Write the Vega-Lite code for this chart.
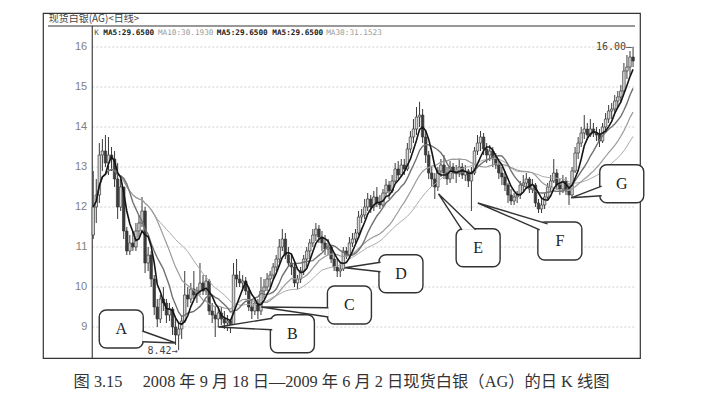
{
  "$schema": "https://vega.github.io/schema/vega-lite/v6.json",
  "width": 597,
  "height": 345,
  "autosize": {"type": "none"},
  "padding": {"left": 43, "top": 13, "right": 88, "bottom": 43},
  "background": "white",
  "title": {
    "text": "图 3.15\u3000 2008 年 9 月 18 日—2009 年 6 月 2 日现货白银（AG）的日 K 线图",
    "orient": "bottom",
    "anchor": "middle",
    "offset": 15,
    "font": "Liberation Serif, Noto Sans CJK SC",
    "fontSize": 16.3,
    "fontWeight": "normal",
    "color": "#333"
  },
  "config": {"view": {"stroke": "#333", "strokeWidth": 1.2}},
  "datasets": {
    "k": [
      {"i":0,"o":11.3,"h":12.9,"l":11.2,"c":12.0},
      {"i":1,"o":12.0,"h":12.7,"l":11.6,"c":12.3},
      {"i":2,"o":12.3,"h":13.6,"l":12.1,"c":13.3},
      {"i":3,"o":13.3,"h":13.7,"l":12.9,"c":13.4},
      {"i":4,"o":13.4,"h":13.8,"l":13.0,"c":13.1},
      {"i":5,"o":13.1,"h":13.75,"l":12.8,"c":13.3},
      {"i":6,"o":13.3,"h":13.5,"l":12.9,"c":13.2},
      {"i":7,"o":13.2,"h":13.4,"l":12.5,"c":12.7},
      {"i":8,"o":12.7,"h":13.1,"l":11.7,"c":12.0},
      {"i":9,"o":12.0,"h":12.7,"l":11.9,"c":12.5},
      {"i":10,"o":12.5,"h":12.5,"l":11.2,"c":11.4},
      {"i":11,"o":11.4,"h":11.5,"l":10.8,"c":10.9},
      {"i":12,"o":10.9,"h":11.3,"l":10.8,"c":11.1},
      {"i":13,"o":11.1,"h":11.4,"l":10.9,"c":11.0},
      {"i":14,"o":11.0,"h":11.6,"l":10.9,"c":11.4},
      {"i":15,"o":11.4,"h":11.8,"l":11.2,"c":11.6},
      {"i":16,"o":11.6,"h":12.25,"l":11.5,"c":11.9},
      {"i":17,"o":11.9,"h":12.0,"l":10.35,"c":10.6},
      {"i":18,"o":10.6,"h":11.0,"l":10.4,"c":10.8},
      {"i":19,"o":10.8,"h":10.9,"l":10.0,"c":10.2},
      {"i":20,"o":10.2,"h":10.3,"l":9.3,"c":9.5},
      {"i":21,"o":9.5,"h":9.7,"l":9.0,"c":9.2},
      {"i":22,"o":9.2,"h":9.8,"l":9.1,"c":9.7},
      {"i":23,"o":9.7,"h":10.0,"l":9.4,"c":9.6},
      {"i":24,"o":9.6,"h":9.7,"l":9.1,"c":9.3},
      {"i":25,"o":9.3,"h":9.6,"l":9.15,"c":9.45},
      {"i":26,"o":9.45,"h":9.5,"l":8.8,"c":9.0},
      {"i":27,"o":9.0,"h":9.2,"l":8.55,"c":8.8},
      {"i":28,"o":8.8,"h":9.1,"l":8.42,"c":8.95},
      {"i":29,"o":8.95,"h":9.3,"l":8.7,"c":9.15},
      {"i":30,"o":9.15,"h":10.4,"l":9.1,"c":9.8},
      {"i":31,"o":9.8,"h":10.0,"l":9.5,"c":9.7},
      {"i":32,"o":9.7,"h":10.1,"l":9.6,"c":9.95},
      {"i":33,"o":9.95,"h":10.4,"l":9.7,"c":9.8},
      {"i":34,"o":9.8,"h":10.0,"l":9.6,"c":9.9},
      {"i":35,"o":9.9,"h":10.6,"l":9.8,"c":10.1},
      {"i":36,"o":10.1,"h":10.3,"l":9.8,"c":9.9},
      {"i":37,"o":9.9,"h":10.3,"l":9.8,"c":10.15},
      {"i":38,"o":10.15,"h":10.2,"l":9.3,"c":9.4},
      {"i":39,"o":9.4,"h":9.6,"l":9.1,"c":9.3},
      {"i":40,"o":9.3,"h":9.5,"l":8.75,"c":9.2},
      {"i":41,"o":9.2,"h":9.5,"l":9.0,"c":9.35},
      {"i":42,"o":9.35,"h":9.5,"l":9.05,"c":9.2},
      {"i":43,"o":9.2,"h":9.4,"l":8.95,"c":9.1},
      {"i":44,"o":9.1,"h":9.3,"l":8.9,"c":9.15},
      {"i":45,"o":9.15,"h":9.2,"l":8.85,"c":9.0},
      {"i":46,"o":9.05,"h":10.6,"l":9.0,"c":10.3},
      {"i":47,"o":10.3,"h":10.7,"l":10.0,"c":10.2},
      {"i":48,"o":10.2,"h":10.4,"l":10.0,"c":10.1},
      {"i":49,"o":10.1,"h":10.3,"l":9.9,"c":10.15},
      {"i":50,"o":10.15,"h":10.25,"l":9.8,"c":9.9},
      {"i":51,"o":9.9,"h":10.0,"l":9.4,"c":9.5},
      {"i":52,"o":9.5,"h":9.7,"l":9.2,"c":9.4},
      {"i":53,"o":9.4,"h":9.75,"l":9.3,"c":9.6},
      {"i":54,"o":9.6,"h":9.7,"l":9.2,"c":9.4},
      {"i":55,"o":9.4,"h":10.25,"l":9.3,"c":9.9},
      {"i":56,"o":9.9,"h":10.2,"l":9.7,"c":10.0},
      {"i":57,"o":10.0,"h":10.35,"l":9.9,"c":10.2},
      {"i":58,"o":10.2,"h":10.4,"l":10.0,"c":10.3},
      {"i":59,"o":10.3,"h":10.6,"l":10.2,"c":10.5},
      {"i":60,"o":10.5,"h":10.8,"l":10.4,"c":10.7},
      {"i":61,"o":10.7,"h":11.2,"l":10.6,"c":11.0},
      {"i":62,"o":11.0,"h":11.45,"l":10.9,"c":11.2},
      {"i":63,"o":11.2,"h":11.35,"l":10.7,"c":10.8},
      {"i":64,"o":10.8,"h":11.0,"l":10.5,"c":10.6},
      {"i":65,"o":10.6,"h":10.8,"l":10.3,"c":10.5},
      {"i":66,"o":10.5,"h":10.6,"l":10.0,"c":10.1},
      {"i":67,"o":10.1,"h":10.3,"l":9.95,"c":10.2},
      {"i":68,"o":10.2,"h":10.5,"l":10.1,"c":10.4},
      {"i":69,"o":10.4,"h":10.8,"l":10.3,"c":10.7},
      {"i":70,"o":10.7,"h":11.0,"l":10.5,"c":10.9},
      {"i":71,"o":10.9,"h":11.2,"l":10.7,"c":11.1},
      {"i":72,"o":11.1,"h":11.45,"l":11.0,"c":11.3},
      {"i":73,"o":11.3,"h":11.6,"l":11.15,"c":11.45},
      {"i":74,"o":11.45,"h":11.55,"l":11.1,"c":11.25},
      {"i":75,"o":11.25,"h":11.4,"l":10.9,"c":11.1},
      {"i":76,"o":11.1,"h":11.3,"l":10.8,"c":10.95},
      {"i":77,"o":10.95,"h":11.2,"l":10.8,"c":11.0},
      {"i":78,"o":11.0,"h":11.05,"l":10.6,"c":10.7},
      {"i":79,"o":10.7,"h":10.8,"l":10.4,"c":10.5},
      {"i":80,"o":10.5,"h":10.7,"l":10.25,"c":10.4},
      {"i":81,"o":10.4,"h":10.6,"l":10.25,"c":10.45},
      {"i":82,"o":10.45,"h":11.0,"l":10.4,"c":10.9},
      {"i":83,"o":10.9,"h":11.0,"l":10.7,"c":10.8},
      {"i":84,"o":10.8,"h":11.25,"l":10.75,"c":11.1},
      {"i":85,"o":11.1,"h":11.35,"l":11.0,"c":11.2},
      {"i":86,"o":11.2,"h":11.45,"l":11.1,"c":11.35},
      {"i":87,"o":11.35,"h":11.9,"l":11.3,"c":11.75},
      {"i":88,"o":11.75,"h":11.95,"l":11.6,"c":11.8},
      {"i":89,"o":11.8,"h":12.2,"l":11.7,"c":12.0},
      {"i":90,"o":12.0,"h":12.35,"l":11.9,"c":12.2},
      {"i":91,"o":12.2,"h":12.3,"l":11.85,"c":12.0},
      {"i":92,"o":12.0,"h":12.4,"l":11.9,"c":12.25},
      {"i":93,"o":12.25,"h":12.5,"l":12.0,"c":12.1},
      {"i":94,"o":12.1,"h":12.3,"l":11.95,"c":12.05},
      {"i":95,"o":12.05,"h":12.45,"l":12.0,"c":12.35},
      {"i":96,"o":12.35,"h":12.7,"l":12.25,"c":12.55},
      {"i":97,"o":12.55,"h":12.65,"l":12.2,"c":12.4},
      {"i":98,"o":12.4,"h":12.8,"l":12.35,"c":12.65},
      {"i":99,"o":12.65,"h":13.1,"l":12.6,"c":12.95},
      {"i":100,"o":12.95,"h":13.15,"l":12.7,"c":12.8},
      {"i":101,"o":12.8,"h":13.2,"l":12.75,"c":13.05},
      {"i":102,"o":13.05,"h":13.2,"l":12.8,"c":12.95},
      {"i":103,"o":12.95,"h":13.6,"l":12.9,"c":13.45},
      {"i":104,"o":13.45,"h":13.9,"l":13.35,"c":13.75},
      {"i":105,"o":13.75,"h":14.2,"l":13.6,"c":13.95},
      {"i":106,"o":13.95,"h":14.5,"l":13.8,"c":14.25},
      {"i":107,"o":14.25,"h":14.63,"l":14.0,"c":14.3},
      {"i":108,"o":14.3,"h":14.45,"l":13.6,"c":13.75},
      {"i":109,"o":13.75,"h":13.9,"l":13.1,"c":13.3},
      {"i":110,"o":13.3,"h":13.4,"l":12.7,"c":12.85},
      {"i":111,"o":12.85,"h":13.0,"l":12.5,"c":12.7},
      {"i":112,"o":12.7,"h":12.85,"l":12.2,"c":12.5},
      {"i":113,"o":12.5,"h":13.0,"l":12.4,"c":12.9},
      {"i":114,"o":12.9,"h":13.2,"l":12.75,"c":13.05},
      {"i":115,"o":13.05,"h":13.3,"l":12.7,"c":12.85},
      {"i":116,"o":12.85,"h":13.0,"l":12.55,"c":12.7},
      {"i":117,"o":12.7,"h":13.15,"l":12.6,"c":13.0},
      {"i":118,"o":13.0,"h":13.1,"l":12.7,"c":12.85},
      {"i":119,"o":12.85,"h":13.05,"l":12.6,"c":12.9},
      {"i":120,"o":12.9,"h":13.2,"l":12.75,"c":13.0},
      {"i":121,"o":13.0,"h":13.1,"l":12.7,"c":12.8},
      {"i":122,"o":12.8,"h":13.05,"l":12.65,"c":12.9},
      {"i":123,"o":12.9,"h":12.95,"l":12.5,"c":12.65},
      {"i":124,"o":12.65,"h":13.0,"l":11.9,"c":12.85},
      {"i":125,"o":12.85,"h":13.5,"l":12.8,"c":13.4},
      {"i":126,"o":13.4,"h":13.8,"l":13.3,"c":13.6},
      {"i":127,"o":13.6,"h":13.9,"l":13.4,"c":13.75},
      {"i":128,"o":13.75,"h":13.85,"l":13.3,"c":13.45},
      {"i":129,"o":13.45,"h":13.6,"l":13.1,"c":13.3},
      {"i":130,"o":13.3,"h":13.55,"l":13.15,"c":13.4},
      {"i":131,"o":13.4,"h":13.5,"l":13.0,"c":13.2},
      {"i":132,"o":13.2,"h":13.35,"l":12.95,"c":13.05},
      {"i":133,"o":13.05,"h":13.15,"l":12.7,"c":12.85},
      {"i":134,"o":12.85,"h":13.0,"l":12.55,"c":12.75},
      {"i":135,"o":12.75,"h":12.9,"l":12.4,"c":12.55},
      {"i":136,"o":12.55,"h":12.6,"l":12.1,"c":12.3},
      {"i":137,"o":12.3,"h":12.45,"l":12.05,"c":12.15},
      {"i":138,"o":12.15,"h":12.35,"l":12.05,"c":12.25},
      {"i":139,"o":12.25,"h":12.4,"l":12.1,"c":12.3},
      {"i":140,"o":12.3,"h":12.65,"l":12.2,"c":12.55},
      {"i":141,"o":12.55,"h":12.8,"l":12.4,"c":12.6},
      {"i":142,"o":12.6,"h":12.85,"l":12.45,"c":12.7},
      {"i":143,"o":12.7,"h":12.75,"l":12.35,"c":12.45},
      {"i":144,"o":12.45,"h":12.7,"l":12.35,"c":12.55},
      {"i":145,"o":12.55,"h":12.6,"l":12.0,"c":12.1},
      {"i":146,"o":12.1,"h":12.2,"l":11.85,"c":11.95},
      {"i":147,"o":11.95,"h":12.2,"l":11.85,"c":12.05},
      {"i":148,"o":12.05,"h":12.35,"l":11.95,"c":12.25},
      {"i":149,"o":12.25,"h":12.6,"l":12.2,"c":12.5},
      {"i":150,"o":12.5,"h":12.8,"l":12.4,"c":12.65},
      {"i":151,"o":12.65,"h":13.2,"l":12.6,"c":12.85},
      {"i":152,"o":12.85,"h":12.95,"l":12.45,"c":12.55},
      {"i":153,"o":12.55,"h":12.7,"l":12.3,"c":12.45},
      {"i":154,"o":12.45,"h":12.8,"l":12.35,"c":12.65},
      {"i":155,"o":12.65,"h":12.75,"l":12.3,"c":12.4},
      {"i":156,"o":12.4,"h":12.6,"l":12.05,"c":12.3},
      {"i":157,"o":12.3,"h":13.0,"l":12.25,"c":12.9},
      {"i":158,"o":12.9,"h":13.5,"l":12.85,"c":13.35},
      {"i":159,"o":13.35,"h":13.75,"l":13.2,"c":13.6},
      {"i":160,"o":13.6,"h":14.0,"l":13.5,"c":13.85},
      {"i":161,"o":13.85,"h":14.3,"l":13.7,"c":13.95},
      {"i":162,"o":13.95,"h":14.1,"l":13.7,"c":13.8},
      {"i":163,"o":13.8,"h":14.2,"l":13.75,"c":13.95},
      {"i":164,"o":13.95,"h":14.1,"l":13.75,"c":13.85},
      {"i":165,"o":13.85,"h":14.0,"l":13.65,"c":13.8},
      {"i":166,"o":13.8,"h":13.95,"l":13.5,"c":13.65},
      {"i":167,"o":13.65,"h":14.1,"l":13.6,"c":14.0},
      {"i":168,"o":14.0,"h":14.35,"l":13.9,"c":14.2},
      {"i":169,"o":14.2,"h":14.55,"l":14.1,"c":14.4},
      {"i":170,"o":14.4,"h":14.6,"l":14.2,"c":14.45},
      {"i":171,"o":14.45,"h":14.8,"l":14.35,"c":14.65},
      {"i":172,"o":14.65,"h":14.9,"l":14.5,"c":14.75},
      {"i":173,"o":14.75,"h":15.05,"l":14.6,"c":14.9},
      {"i":174,"o":14.9,"h":15.6,"l":14.85,"c":15.4},
      {"i":175,"o":15.4,"h":15.8,"l":15.2,"c":15.5},
      {"i":176,"o":15.5,"h":15.9,"l":15.3,"c":15.75},
      {"i":177,"o":15.75,"h":16.0,"l":15.5,"c":15.65}
    ],
    "grid": [{"g":9},{"g":10},{"g":11},{"g":12},{"g":13},{"g":14},{"g":15},{"g":16}],
    "boxes": [
      {"id":"A","i":9.19,"v":8.95},
      {"id":"B","i":65.3,"v":8.83},
      {"id":"C","i":84.0,"v":9.55},
      {"id":"D","i":100.9,"v":10.33},
      {"id":"E","i":126.2,"v":10.98},
      {"id":"F","i":153.0,"v":11.15},
      {"id":"G","i":173.3,"v":12.58}
    ],
    "tails": [
      {"id":"A","k":0,"i":16.1,"v":8.9},
      {"id":"A","k":1,"i":27.1,"v":8.6},
      {"id":"A","k":2,"i":16.1,"v":8.63},
      {"id":"B","k":0,"i":58.7,"v":9.22},
      {"id":"B","k":1,"i":41.0,"v":9.0},
      {"id":"B","k":2,"i":58.7,"v":8.93},
      {"id":"C","k":0,"i":77.1,"v":9.48},
      {"id":"C","k":1,"i":55.1,"v":9.5},
      {"id":"C","k":2,"i":77.1,"v":9.25},
      {"id":"D","k":0,"i":94.2,"v":10.62},
      {"id":"D","k":1,"i":82.5,"v":10.48},
      {"id":"D","k":2,"i":94.2,"v":10.38},
      {"id":"E","k":0,"i":120.9,"v":11.43},
      {"id":"E","k":1,"i":113.2,"v":12.33},
      {"id":"E","k":2,"i":125.4,"v":11.43},
      {"id":"F","k":0,"i":146.4,"v":11.43},
      {"id":"F","k":1,"i":126.1,"v":12.1},
      {"id":"F","k":2,"i":149.0,"v":11.58},
      {"id":"G","k":0,"i":166.7,"v":12.52},
      {"id":"G","k":1,"i":156.7,"v":12.23},
      {"id":"G","k":2,"i":166.7,"v":12.28}
    ]
  },
  "layer": [
    {
      "data": {"name": "grid"},
      "mark": {"type": "rule", "color": "#c4c4c4", "strokeWidth": 0.8, "strokeDash": [2, 2]},
      "encoding": {
        "y": {"field": "g", "type": "quantitative", "scale": {"domain": [8.225, 16.85], "nice": false, "zero": false}, "axis": null},
        "x": {"datum": -0.32, "type": "quantitative", "scale": {"domain": [-14.83, 177.64], "nice": false, "zero": false}, "axis": null},
        "x2": {"datum": 177.64}
      }
    },
    {
      "data": {"name": "grid"},
      "mark": {"type": "text", "align": "right", "baseline": "middle", "dx": -5, "font": "Liberation Sans", "fontSize": 11, "color": "#808080"},
      "encoding": {
        "y": {"field": "g", "type": "quantitative", "axis": null},
        "x": {"datum": -0.32, "type": "quantitative", "axis": null},
        "text": {"field": "g"}
      }
    },
    {
      "data": {"values": [{}]},
      "mark": {"type": "rule", "color": "#333", "strokeWidth": 1.1},
      "encoding": {
        "y": {"datum": 16.525, "type": "quantitative", "axis": null},
        "x": {"datum": -14.83, "type": "quantitative", "axis": null},
        "x2": {"datum": 177.64}
      }
    },
    {
      "data": {"values": [{}]},
      "mark": {"type": "rule", "color": "#333", "strokeWidth": 1.1},
      "encoding": {
        "x": {"datum": -0.32, "type": "quantitative", "axis": null},
        "y": {"datum": 8.225, "type": "quantitative", "axis": null},
        "y2": {"datum": 16.525}
      }
    },
    {
      "data": {"name": "k"},
      "mark": {"type": "rule", "color": "#3a3a3a", "strokeWidth": 1},
      "encoding": {
        "x": {"field": "i", "type": "quantitative", "scale": {"domain": [-14.83, 177.64], "nice": false, "zero": false}, "axis": null},
        "y": {"field": "l", "type": "quantitative", "scale": {"domain": [8.225, 16.85], "nice": false, "zero": false}, "axis": null},
        "y2": {"field": "h"}
      }
    },
    {
      "data": {"name": "k"},
      "mark": {"type": "bar", "size": 2.5, "stroke": "#3a3a3a", "strokeWidth": 0.7},
      "encoding": {
        "x": {"field": "i", "type": "quantitative", "scale": {"domain": [-14.83, 177.64], "nice": false, "zero": false}, "axis": null},
        "y": {"field": "o", "type": "quantitative", "scale": {"domain": [8.225, 16.85], "nice": false, "zero": false}, "axis": null},
        "y2": {"field": "c"},
        "fill": {"condition": {"test": "datum.c > datum.o", "value": "#d8d8d8"}, "value": "#3a3a3a"}
      }
    },
    {
      "data": {"name": "k"},
      "transform": [
        {"window": [{"op": "mean", "field": "c", "as": "MA5"}], "frame": [-4, 0], "sort": [{"field": "i"}]},
        {"window": [{"op": "mean", "field": "c", "as": "MA10"}], "frame": [-9, 0], "sort": [{"field": "i"}]},
        {"window": [{"op": "mean", "field": "c", "as": "MA20"}], "frame": [-19, 0], "sort": [{"field": "i"}]},
        {"window": [{"op": "mean", "field": "c", "as": "MA30"}], "frame": [-29, 0], "sort": [{"field": "i"}]},
        {"fold": ["MA30", "MA20", "MA10", "MA5"], "as": ["ma", "val"]}
      ],
      "mark": {"type": "line"},
      "encoding": {
        "x": {"field": "i", "type": "quantitative", "scale": {"domain": [-14.83, 177.64], "nice": false, "zero": false}, "axis": null},
        "y": {"field": "val", "type": "quantitative", "scale": {"domain": [8.225, 16.85], "nice": false, "zero": false}, "axis": null},
        "detail": {"field": "ma"},
        "color": {"field": "ma", "type": "nominal", "scale": {"domain": ["MA5", "MA10", "MA20", "MA30"], "range": ["#151515", "#707070", "#9a9a9a", "#aaaaaa"]}, "legend": null},
        "strokeWidth": {"field": "ma", "type": "ordinal", "scale": {"domain": ["MA5", "MA10", "MA20", "MA30"], "range": [1.6, 1, 0.9, 0.9]}, "legend": null}
      }
    },
    {
      "data": {"values": [{}]},
      "mark": {"type": "text", "align": "left", "baseline": "middle", "font": "Noto Sans CJK SC", "fontSize": 10, "color": "#444"},
      "encoding": {
        "x": {"datum": -14.6, "type": "quantitative", "axis": null},
        "y": {"datum": 16.7, "type": "quantitative", "axis": null},
        "text": {"value": "现货白银(AG)<日线>"}
      }
    },
    {
      "data": {"values": [{}]},
      "mark": {"type": "text", "align": "left", "baseline": "middle", "font": "DejaVu Sans Mono", "fontSize": 7.7, "color": "#555"},
      "encoding": {
        "x": {"datum": 0.3, "type": "quantitative", "axis": null},
        "y": {"datum": 16.35, "type": "quantitative", "axis": null},
        "text": {"value": "K"}
      }
    },
    {
      "data": {"values": [{}]},
      "mark": {"type": "text", "align": "left", "baseline": "middle", "font": "DejaVu Sans Mono", "fontSize": 7.7, "fontWeight": "bold", "color": "#222"},
      "encoding": {
        "x": {"datum": 3.3, "type": "quantitative", "axis": null},
        "y": {"datum": 16.35, "type": "quantitative", "axis": null},
        "text": {"value": "MA5:29.6500"}
      }
    },
    {
      "data": {"values": [{}]},
      "mark": {"type": "text", "align": "left", "baseline": "middle", "font": "DejaVu Sans Mono", "fontSize": 7.7, "color": "#9a9a9a"},
      "encoding": {
        "x": {"datum": 21.2, "type": "quantitative", "axis": null},
        "y": {"datum": 16.35, "type": "quantitative", "axis": null},
        "text": {"value": "MA10:30.1930"}
      }
    },
    {
      "data": {"values": [{}]},
      "mark": {"type": "text", "align": "left", "baseline": "middle", "font": "DejaVu Sans Mono", "fontSize": 7.7, "fontWeight": "bold", "color": "#222"},
      "encoding": {
        "x": {"datum": 40.5, "type": "quantitative", "axis": null},
        "y": {"datum": 16.35, "type": "quantitative", "axis": null},
        "text": {"value": "MA5:29.6500 MA5:29.6500"}
      }
    },
    {
      "data": {"values": [{}]},
      "mark": {"type": "text", "align": "left", "baseline": "middle", "font": "DejaVu Sans Mono", "fontSize": 7.7, "color": "#9a9a9a"},
      "encoding": {
        "x": {"datum": 76.4, "type": "quantitative", "axis": null},
        "y": {"datum": 16.35, "type": "quantitative", "axis": null},
        "text": {"value": "MA30:31.1523"}
      }
    },
    {
      "data": {"values": [{}]},
      "mark": {"type": "text", "align": "right", "baseline": "middle", "dx": -1, "dy": 1, "font": "DejaVu Sans Mono", "fontSize": 10, "color": "#444"},
      "encoding": {
        "x": {"datum": 28, "type": "quantitative", "axis": null},
        "y": {"datum": 8.42, "type": "quantitative", "axis": null},
        "text": {"value": "8.42→"}
      }
    },
    {
      "data": {"values": [{}]},
      "mark": {"type": "text", "align": "right", "baseline": "middle", "dx": -1, "font": "DejaVu Sans Mono", "fontSize": 10, "color": "#444"},
      "encoding": {
        "x": {"datum": 177, "type": "quantitative", "axis": null},
        "y": {"datum": 16.0, "type": "quantitative", "axis": null},
        "text": {"value": "16.00–"}
      }
    },
    {
      "data": {"name": "boxes"},
      "mark": {"type": "rect", "width": 44, "height": 38, "cornerRadius": 7, "fill": "white", "stroke": "#333", "strokeWidth": 1.4},
      "encoding": {
        "x": {"field": "i", "type": "quantitative", "axis": null},
        "y": {"field": "v", "type": "quantitative", "axis": null}
      }
    },
    {
      "data": {"name": "tails"},
      "mark": {"type": "line", "fill": "white", "stroke": "#333", "strokeWidth": 1.4},
      "encoding": {
        "x": {"field": "i", "type": "quantitative", "axis": null},
        "y": {"field": "v", "type": "quantitative", "axis": null},
        "detail": {"field": "id"},
        "order": {"field": "k"}
      }
    },
    {
      "data": {"name": "boxes"},
      "mark": {"type": "text", "align": "center", "baseline": "middle", "font": "Liberation Serif", "fontSize": 16, "color": "#222"},
      "encoding": {
        "x": {"field": "i", "type": "quantitative", "axis": null},
        "y": {"field": "v", "type": "quantitative", "axis": null},
        "text": {"field": "id"}
      }
    }
  ]
}
